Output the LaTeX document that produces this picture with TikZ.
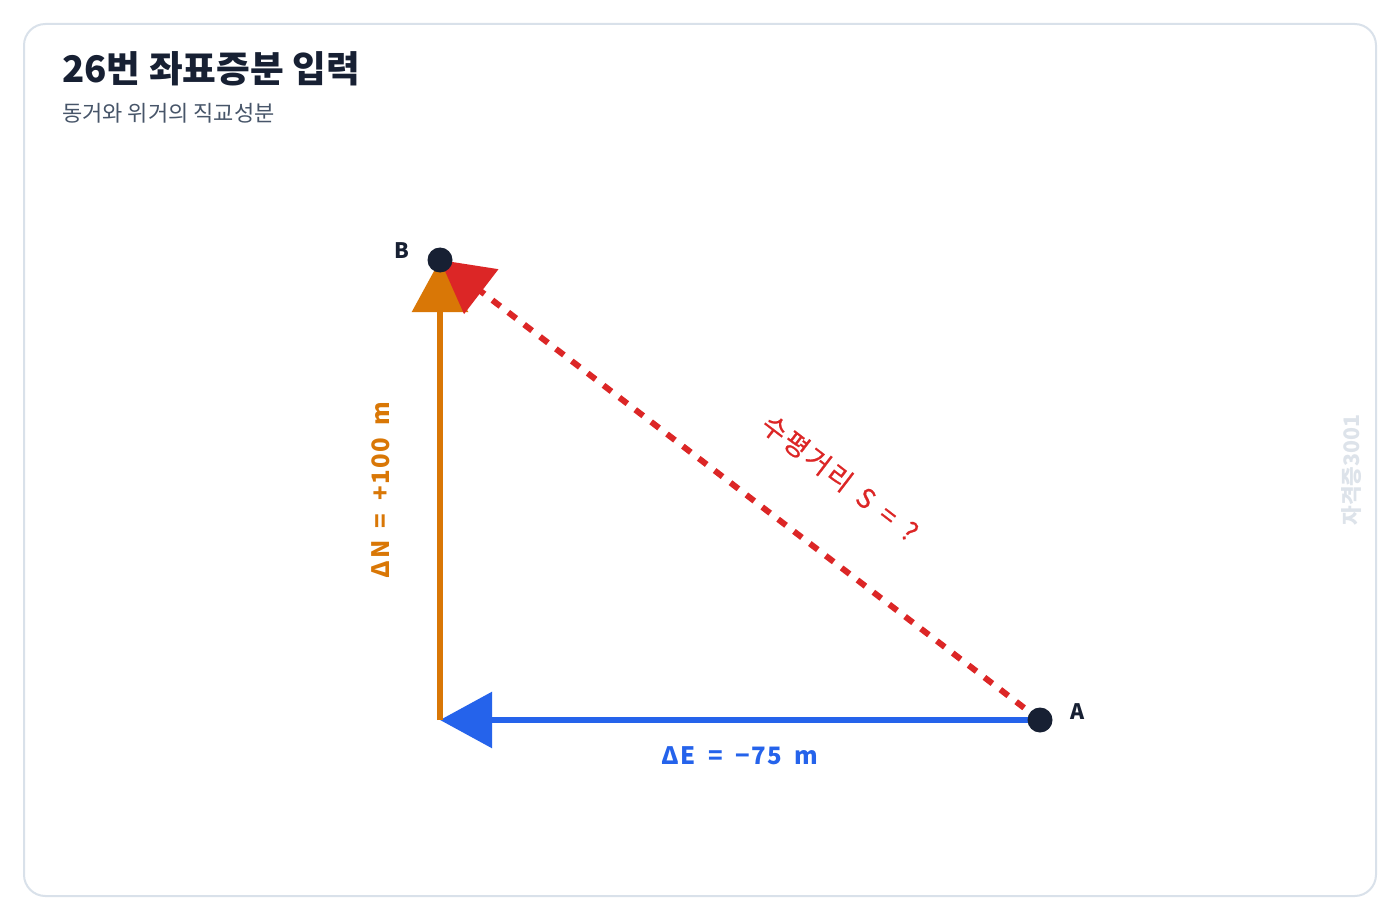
\documentclass[tikz,border=0pt]{standalone}
\usepackage{fontspec}
\setmainfont{Noto Sans CJK KR}
\newfontfamily\complabelfont[LetterSpace=6,WordSpace=1.8]{Noto Sans CJK KR}
\newfontfamily\slabelfont[LetterSpace=10,WordSpace=1.5,FakeBold=0.6]{Noto Sans CJK KR}
\usetikzlibrary{arrows.meta}
\definecolor{navy}{HTML}{172033}
\definecolor{subgray}{HTML}{475569}
\definecolor{cardgray}{HTML}{D9E1EA}
\definecolor{eblue}{HTML}{2563EB}
\definecolor{norange}{HTML}{D97706}
\definecolor{sred}{HTML}{DC2626}
\definecolor{wmgray}{HTML}{DDE3EA}
\tikzset{
  bigtip/.tip={Triangle[length=39pt,width=41.25pt]},
  vecline/.style={line width=4.5pt},
  dot/.style={circle,fill=navy,minimum size=18.75pt,inner sep=0pt},
  ptlabel/.style={text=navy,font=\fontsize{16pt}{18pt}\selectfont\bfseries,inner sep=0pt},
  complabel/.style={font=\complabelfont\fontsize{18pt}{20pt}\selectfont\bfseries,inner sep=0pt},
}
\begin{document}
\begin{tikzpicture}[x=0.75pt,y=-0.75pt]
\useasboundingbox (0,0) rectangle (1400,920);
\fill[white] (0,0) rectangle (1400,920);
\draw[cardgray,line width=1.5pt,rounded corners=16pt] (24,24) rectangle (1376,896);
% title
\node[anchor=base west,inner sep=0pt,text=navy,font=\fontsize{27.5pt}{30pt}\selectfont\bfseries] (title) at (62,83) {26번 좌표증분 입력};
\node[anchor=base west,inner sep=0pt,text=subgray,font=\fontsize{16.5pt}{18pt}\selectfont] (subtitle) at (62,122) {동거와 위거의 직교성분};
% watermark
\node[rotate=90,inner sep=0pt,text=wmgray,font=\fontsize{16pt}{18pt}\selectfont\bfseries] (wm) at (1352,470) {자격증3001};
% points
\coordinate (pA) at (1040,720);
\coordinate (pB) at (440,260);
\coordinate (pC) at (440,720);
% vectors
\draw[vecline,eblue,-{bigtip}] (pA) -- (pC);
\draw[vecline,norange,-{bigtip}] (pC) -- (pB);
\draw[vecline,sred,dash pattern=on 7.5pt off 7.5pt,-{bigtip}] (pA) -- (pB);
% dots
\node[dot] (A) at (pA) {};
\node[dot] (B) at (pB) {};
\node[ptlabel] (lA) at (1078,712) {A};
\node[ptlabel] (lB) at (402,251) {B};
% labels
\node[complabel,text=eblue] (dE) at (740,756) {ΔE = −75 m};
\node[complabel,text=norange,rotate=90] (dN) at (381,490) {ΔN = +100 m};
\node[inner sep=0pt,text=sred,rotate=-37.48,font=\slabelfont\fontsize{20pt}{22pt}\selectfont] (S) at (840,478) {수평거리 S = ?};
\end{tikzpicture}
\end{document}
